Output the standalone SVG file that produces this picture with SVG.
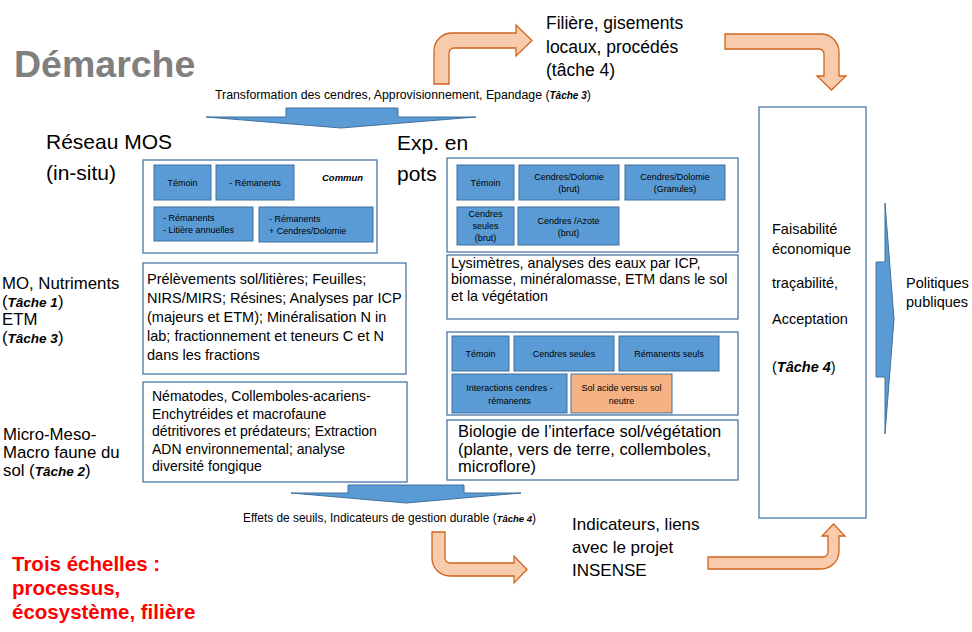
<svg xmlns="http://www.w3.org/2000/svg" width="972" height="632" viewBox="0 0 972 632">
<style>
text{font-family:"Liberation Sans",Arial,sans-serif;fill:#000}
.cont{fill:#fff;stroke:#4A76A8;stroke-width:1.3}
.ib{fill:#5B9BD5;stroke:#41719C;stroke-width:1}
.ob{fill:#F4B183;stroke:#41719C;stroke-width:1}
.it{font-size:9px;text-anchor:middle}
.il{font-size:9px}
.bt{font-size:14.5px}
.lab{font-size:17.5px}
.ml{font-size:16.8px}
.oa{fill:#F8CBAD;stroke:#D0641E;stroke-width:1.3}
.ba{fill:#5B9BD5;stroke:#41719C;stroke-width:1}
.bi{font-weight:bold;font-style:italic}
</style>
<rect width="972" height="632" fill="#fff"/>

<g id="title">
<text x="14" y="77" style="font-size:37.5px;font-weight:bold;fill:#7F7F7F">Démarche</text>
</g>

<g id="connectors">
<path class="oa" d="M434,84 V51 A18,18 0 0 1 452,33 H516 V25 L532,40.5 L516,56 V48 H454 A5,5 0 0 0 449,53 V84 Z"/>
<path class="oa" d="M725,34 H821 A18,18 0 0 1 839,52 V76 H846 L831.5,90 L817,76 H824 V54 A5,5 0 0 0 819,49 H725 Z"/>
<path class="oa" d="M432,532 H445 V558 A5,5 0 0 0 450,563 H514 V556 L527,569.5 L514,583 V576 H450 A18,18 0 0 1 432,558 Z"/>
<path class="oa" d="M708,557 H823 A5,5 0 0 0 828,552 V536 H822 L833.5,524 L845,536 H839 V551 A18,18 0 0 1 821,569 H708 Z"/>
<polygon class="ba" points="286,108 398,108 398,117 476,117 341,128 206,117 286,117"/>
<polygon class="ba" points="348,485 464,485 464,493 521,493 406,503 291,493 348,493"/>
<polygon class="ba" points="876,262 885,262 885,203 894,319 885,434 885,377 876,377"/>
</g>

<g id="filiere">
<text class="lab" x="546" y="29">Filière, gisements</text>
<text class="lab" x="546" y="53">locaux, procédés</text>
<text class="lab" x="546" y="76">(tâche 4)</text>
</g>

<g id="transformation">
<text x="215" y="99" style="font-size:12.3px">Transformation des cendres, Approvisionnement, Epandage (<tspan class="bi" style="font-size:10px">Tâche 3</tspan>)</text>
</g>

<g id="reseau-mos-label">
<text x="46" y="149" style="font-size:21px">Réseau MOS</text>
<text x="46" y="180" style="font-size:21px">(in-situ)</text>
</g>

<g id="exp-pots-label">
<text x="397" y="150" style="font-size:21px">Exp. en</text>
<text x="397" y="181" style="font-size:21px">pots</text>
</g>

<g id="mos-box">
<rect class="cont" x="143" y="160" width="234" height="93"/>
<rect class="ib" x="154" y="165" width="57" height="35"/>
<text class="it" x="182.5" y="185.5">Témoin</text>
<rect class="ib" x="216" y="165" width="78" height="35"/>
<text class="it" x="255" y="185.5">- Rémanents</text>
<text x="322" y="181" class="bi" style="font-size:9.5px">Commun</text>
<rect class="ib" x="154" y="207" width="99" height="34"/>
<text class="il" x="163" y="221">- Rémanents</text>
<text class="il" x="163" y="233">- Litière annuelles</text>
<rect class="ib" x="259" y="207" width="114" height="35"/>
<text class="il" x="269" y="222">- Rémanents</text>
<text class="il" x="269" y="234">+ Cendres/Dolomie</text>
</g>

<g id="pots-box">
<rect class="cont" x="447" y="158" width="291" height="94"/>
<rect class="ib" x="457" y="165" width="57" height="35"/>
<text class="it" x="485.5" y="185.5">Témoin</text>
<rect class="ib" x="519" y="165" width="100" height="35"/>
<text class="it" x="569" y="180">Cendres/Dolomie</text>
<text class="it" x="569" y="192">(brut)</text>
<rect class="ib" x="625" y="165" width="100" height="35"/>
<text class="it" x="675" y="180">Cendres/Dolomie</text>
<text class="it" x="675" y="192">(Granules)</text>
<rect class="ib" x="457" y="207" width="57" height="38"/>
<text class="it" x="485.5" y="217">Cendres</text>
<text class="it" x="485.5" y="229">seules</text>
<text class="it" x="485.5" y="241">(brut)</text>
<rect class="ib" x="518" y="207" width="101" height="38"/>
<text class="it" x="568.5" y="224">Cendres /Azote</text>
<text class="it" x="568.5" y="236">(brut)</text>
</g>

<g id="lysimetres-box">
<rect class="cont" x="447" y="255" width="291" height="64"/>
<text x="451" y="268" style="font-size:14.3px">Lysimètres, analyses des eaux par ICP,</text>
<text x="451" y="284" style="font-size:14.3px">biomasse, minéralomasse, ETM dans le sol</text>
<text x="451" y="301" style="font-size:14.3px">et la végétation</text>
</g>

<g id="mo-label">
<text class="ml" x="2" y="289">MO, Nutriments</text>
<text class="ml" x="2" y="307">(<tspan class="bi" style="font-size:13.5px">Tâche 1</tspan>)</text>
<text class="ml" x="2" y="325">ETM</text>
<text class="ml" x="2" y="343">(<tspan class="bi" style="font-size:13.5px">Tâche 3</tspan>)</text>
</g>

<g id="prelevements-box">
<rect class="cont" x="143" y="263" width="263" height="111"/>
<text class="bt" x="147" y="284">Prélèvements sol/litières; Feuilles;</text>
<text class="bt" x="147" y="303">NIRS/MIRS; Résines; Analyses par ICP</text>
<text class="bt" x="147" y="322">(majeurs et ETM); Minéralisation N in</text>
<text class="bt" x="147" y="341">lab; fractionnement et teneurs C et N</text>
<text class="bt" x="147" y="360">dans les fractions</text>
</g>

<g id="pots-box-2">
<rect class="cont" x="447" y="332" width="291" height="83"/>
<rect class="ib" x="452" y="336" width="57" height="35"/>
<text class="it" x="480.5" y="357">Témoin</text>
<rect class="ib" x="514" y="336" width="100" height="35"/>
<text class="it" x="564" y="357">Cendres seules</text>
<rect class="ib" x="619" y="336" width="100" height="35"/>
<text class="it" x="669" y="357">Rémanents seuls</text>
<rect class="ib" x="452" y="374" width="115" height="39"/>
<text class="it" x="509.5" y="391">Interactions cendres -</text>
<text class="it" x="509.5" y="404">rémanents</text>
<rect class="ob" x="571" y="374" width="101" height="39"/>
<text class="it" x="621.5" y="391">Sol acide versus sol</text>
<text class="it" x="621.5" y="404">neutre</text>
</g>

<g id="faune-label">
<text class="ml" x="3" y="440">Micro-Meso-</text>
<text class="ml" x="3" y="458">Macro faune du</text>
<text class="ml" x="3" y="476">sol (<tspan class="bi" style="font-size:13.5px">Tâche 2</tspan>)</text>
</g>

<g id="nematodes-box">
<rect class="cont" x="143" y="382" width="264" height="100"/>
<text x="152" y="401" style="font-size:14px">Nématodes, Collemboles-acariens-</text>
<text x="152" y="418.5" style="font-size:14px">Enchytréides et macrofaune</text>
<text x="152" y="436" style="font-size:14px">détritivores et prédateurs; Extraction</text>
<text x="152" y="453.5" style="font-size:14px">ADN environnemental; analyse</text>
<text x="152" y="471" style="font-size:14px">diversité fongique</text>
</g>

<g id="biologie-box">
<rect class="cont" x="447" y="420" width="291" height="60"/>
<text x="458" y="437" style="font-size:16.5px">Biologie de l’interface sol/végétation</text>
<text x="458" y="455" style="font-size:16.5px">(plante, vers de terre, collemboles,</text>
<text x="458" y="472" style="font-size:16.5px">microflore)</text>
</g>

<g id="faisabilite-box">
<rect class="cont" x="759" y="107" width="107" height="411"/>
<text x="772" y="234" style="font-size:14.5px">Faisabilité</text>
<text x="772" y="254" style="font-size:14.5px">économique</text>
<text x="772" y="288" style="font-size:14.5px">traçabilité,</text>
<text x="772" y="324" style="font-size:14.5px">Acceptation</text>
<text x="772" y="372" style="font-size:14.5px">(<tspan class="bi">Tâche 4</tspan>)</text>
</g>

<g id="politiques">
<text x="906" y="288" style="font-size:14.5px">Politiques</text>
<text x="906" y="307" style="font-size:14.5px">publiques</text>
</g>

<g id="effets">
<text x="243" y="522" style="font-size:11.9px">Effets de seuils, Indicateurs de gestion durable (<tspan class="bi" style="font-size:9.5px">Tâche 4</tspan>)</text>
</g>

<g id="indicateurs">
<text x="572" y="530" style="font-size:17px">Indicateurs, liens</text>
<text x="572" y="553" style="font-size:17px">avec le projet</text>
<text x="572" y="576" style="font-size:17px">INSENSE</text>
</g>

<g id="echelles">
<text x="12" y="571" style="font-size:20.5px;font-weight:bold;fill:#FF0000">Trois échelles :</text>
<text x="12" y="595" style="font-size:20.5px;font-weight:bold;fill:#FF0000">processus,</text>
<text x="12" y="619" style="font-size:20.5px;font-weight:bold;fill:#FF0000">écosystème, filière</text>
</g>
</svg>
